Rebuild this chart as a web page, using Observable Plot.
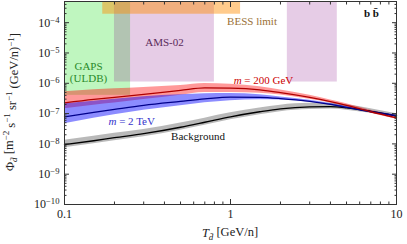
<!DOCTYPE html>
<html><head><meta charset="utf-8">
<script src="https://cdn.jsdelivr.net/npm/d3@7"></script>
<script src="https://cdn.jsdelivr.net/npm/@observablehq/plot@0.6"></script>
<style>body{margin:0;background:#fff} svg{display:block} svg text{font-family:"Liberation Serif",serif}</style>
</head><body><div id="chart"></div>
<script>
// Kinetic energy per nucleon T [GeV/n]
const T = [0.1, 0.15, 0.2, 0.3, 0.5, 0.7, 1, 1.5, 2, 3, 4, 5, 7, 10];
// m = 200 GeV signal
const sig200   = [2.26e-7, 2.95e-7, 3.44e-7, 4.31e-7, 5.84e-7, 7.06e-7, 6.90e-7, 6.07e-7, 4.94e-7, 3.44e-7, 2.50e-7, 1.88e-7, 1.15e-7, 7.28e-8];
const sig200Hi = [5.21e-7, 6.07e-7, 6.55e-7, 7.33e-7, 8.53e-7, 9.93e-7, 9.33e-7, 7.73e-7, 5.97e-7, 4.00e-7, 2.80e-7, 2.10e-7, 1.28e-7, 8.15e-8];
const sig200Lo = [1.44e-7, 1.90e-7, 2.25e-7, 2.89e-7, 4.00e-7, 4.94e-7, 4.94e-7, 4.69e-7, 4.09e-7, 2.95e-7, 2.23e-7, 1.67e-7, 1.02e-7, 6.50e-8];
// m = 2 TeV signal
const sig2T    = [7.85e-8, 1.10e-7, 1.38e-7, 1.88e-7, 2.54e-7, 3.07e-7, 3.52e-7, 3.44e-7, 3.14e-7, 2.54e-7, 2.02e-7, 1.61e-7, 1.15e-7, 8.47e-8];
const sig2THi  = [2.10e-7, 2.54e-7, 2.95e-7, 3.57e-7, 4.15e-7, 4.48e-7, 4.58e-7, 4.15e-7, 3.52e-7, 2.74e-7, 2.15e-7, 1.71e-7, 1.22e-7, 8.99e-8];
const sig2TLo  = [4.62e-8, 7.00e-8, 9.14e-8, 1.28e-7, 1.81e-7, 2.26e-7, 2.64e-7, 2.84e-7, 2.80e-7, 2.35e-7, 1.90e-7, 1.52e-7, 1.08e-7, 7.96e-8];
// Background
const bkg      = [9.42e-9, 1.27e-8, 1.60e-8, 2.17e-8, 3.54e-8, 5.18e-8, 7.85e-8, 1.15e-7, 1.44e-7, 1.67e-7, 1.70e-7, 1.55e-7, 1.19e-7, 8.47e-8];
const bkgHi    = [1.32e-8, 1.79e-8, 2.25e-8, 3.00e-8, 4.87e-8, 7.06e-8, 1.06e-7, 1.53e-7, 1.90e-7, 2.18e-7, 2.18e-7, 1.95e-7, 1.44e-7, 9.84e-8];
const bkgLo    = [7.50e-9, 1.02e-8, 1.27e-8, 1.73e-8, 2.82e-8, 4.15e-8, 6.25e-8, 9.14e-8, 1.16e-7, 1.36e-7, 1.41e-7, 1.30e-7, 1.02e-7, 7.55e-8];

// Experimental regions
const yTop = 5e-4;
const gaps = [{x1: 0.1, x2: 0.25, y1: 4e-7}];
const ams  = [{x1: 0.2, x2: 0.8, y1: 1.1e-6}, {x1: 2.2, x2: 4.4, y1: 1.1e-6}];
const bess = [{x1: 0.17, x2: 1.15, y1: 1.9e-4}];

// Ticks
const xMajor = [0.1, 1, 10];
const xMajorLabels = ["0.1", "1", "10"];
const xMinor = [0.2, 0.3, 0.4, 0.5, 0.6, 0.7, 0.8, 0.9, 2, 3, 4, 5, 6, 7, 8, 9];
const yMajor = [1e-10, 1e-9, 1e-8, 1e-7, 1e-6, 1e-5, 1e-4];
const yExp = ["\u221210", "\u22129", "\u22128", "\u22127", "\u22126", "\u22125", "\u22124"];
const yMinor = yMajor.flatMap(d => [2, 3, 4, 5, 6, 7, 8, 9].map(m => m * d)).filter(v => v < yTop);

// Annotations
const notes = [
  {text: "GAPS", x: 0.1395, y: 3.54e-6, color: "#2a8a2a", weight: "normal"},
  {text: "(ULDB)", x: 0.1395, y: 1.47e-6, color: "#2a8a2a", weight: "normal"},
  {text: "BESS limit", x: 1.348, y: 1.07e-4, color: "#9a7035", weight: "normal"},
  {text: "AMS-02", x: 0.40, y: 2.18e-5, color: "#5a2a5a", weight: "normal"},
  {text: "m = 200 GeV", x: 1.58, y: 1.2e-6, color: "#cc0000", weight: "normal"},
  {text: "m = 2 TeV", x: 0.254, y: 5.37e-8, color: "#3333cc", weight: "normal"},
  {text: "Background", x: 0.637, y: 1.73e-8, color: "#111", weight: "normal"},
  {text: "b b\u0304", x: 7.07, y: 2.02e-4, color: "#111", weight: "bold"}
];

const tbl = (v, lo, hi) => T.map((t, i) => ({T: t, v: v[i], lo: lo[i], hi: hi[i]}));
const red = tbl(sig200, sig200Lo, sig200Hi);
const blue = tbl(sig2T, sig2TLo, sig2THi);
const black = tbl(bkg, bkgLo, bkgHi);

const rectTop = d => yTop;
const frameColor = "#333";
const serif = "'Liberation Serif', serif";

const svg = Plot.plot({
  width: 407, height: 244,
  marginLeft: 64, marginRight: 11, marginTop: 1, marginBottom: 40,
  x: {type: "log", domain: [0.1, 10]},
  y: {type: "log", domain: [1e-10, yTop]},
  style: {fontFamily: serif, fontSize: "12px", background: "white", color: "black"},
  marks: [
    Plot.rect(gaps, {x1: "x1", x2: "x2", y1: "y1", y2: rectTop, fill: "#00dd00", fillOpacity: 0.25}),
    Plot.rect(ams, {x1: "x1", x2: "x2", y1: "y1", y2: rectTop, fill: "purple", fillOpacity: 0.2}),
    Plot.rect(bess, {x1: "x1", x2: "x2", y1: "y1", y2: rectTop, fill: "darkorange", fillOpacity: 0.45}),
    Plot.areaY(black, {x: "T", y1: "lo", y2: "hi", fill: "gray", fillOpacity: 0.55, curve: "monotone-x"}),
    Plot.areaY(red, {x: "T", y1: "lo", y2: "hi", fill: "red", fillOpacity: 0.4, curve: "monotone-x"}),
    Plot.areaY(blue, {x: "T", y1: "lo", y2: "hi", fill: "blue", fillOpacity: 0.45, curve: "monotone-x"}),
    Plot.line(black, {x: "T", y: "v", stroke: "black", strokeWidth: 1.3, curve: "monotone-x"}),
    Plot.line(blue, {x: "T", y: "v", stroke: "#00008b", strokeWidth: 1.3, curve: "monotone-x"}),
    Plot.line(red, {x: "T", y: "v", stroke: "#b00000", strokeWidth: 1.3, curve: "monotone-x"}),
    ...notes.map(a => Plot.text([a], {x: "x", y: "y", text: "text", fill: a.color, fontSize: 11, fontFamily: serif, fontWeight: a.weight})),
    Plot.frame({stroke: frameColor}),
    // ticks (inward, mirrored)
    Plot.axisX(xMajor, {anchor: "bottom", tickSize: -5, fill: "none", stroke: frameColor, label: null}),
    Plot.axisX(xMinor, {anchor: "bottom", tickSize: -2.5, fill: "none", stroke: frameColor, label: null}),
    Plot.axisX(xMajor, {anchor: "top", tickSize: -5, fill: "none", stroke: frameColor, label: null}),
    Plot.axisX(xMinor, {anchor: "top", tickSize: -2.5, fill: "none", stroke: frameColor, label: null}),
    Plot.axisY(yMajor, {anchor: "left", tickSize: -5, fill: "none", stroke: frameColor, label: null}),
    Plot.axisY(yMinor, {anchor: "left", tickSize: -2.5, fill: "none", stroke: frameColor, label: null}),
    Plot.axisY(yMajor, {anchor: "right", tickSize: -5, fill: "none", stroke: frameColor, label: null}),
    Plot.axisY(yMinor, {anchor: "right", tickSize: -2.5, fill: "none", stroke: frameColor, label: null}),
    // labels
    Plot.axisX(xMajor, {anchor: "bottom", tickSize: 0, tickPadding: 5, tickFormat: d => xMajorLabels[xMajor.indexOf(d)], label: null, fontSize: 12, fill: "#222"}),
    Plot.axisY(yMajor, {anchor: "left", tickSize: 0, tickPadding: 5, tickFormat: d => yExp[yMajor.indexOf(d)], label: null, fontSize: 12, fill: "#222"})
  ]
});
document.getElementById("chart").append(svg);

// superscripts for y tick labels
svg.querySelectorAll('[aria-label="y-axis tick label"] text').forEach(t => {
  const e = t.textContent;
  t.textContent = "";
  const a = document.createElementNS("http://www.w3.org/2000/svg", "tspan");
  a.textContent = "10";
  const b = document.createElementNS("http://www.w3.org/2000/svg", "tspan");
  b.setAttribute("dy", "-0.45em");
  b.setAttribute("font-size", "0.72em");
  b.textContent = e;
  t.append(a, b);
});
// italic m in annotations
svg.querySelectorAll('text').forEach(t => {
  if (t.textContent.startsWith("m = ")) {
    const rest = t.textContent.slice(1);
    t.innerHTML = '<tspan font-style="italic">m</tspan>' + rest;
  }
});

const s = d3.select(svg);
// y-axis title
s.append("text")
  .attr("transform", "translate(14,102) rotate(-90)")
  .attr("text-anchor", "middle")
  .attr("font-size", 12.5)
  .attr("fill", "#222")
  .html('\u03A6<tspan dy="0.3em" font-size="0.72em" font-style="italic">d\u0304</tspan><tspan dy="-0.3em"> [m</tspan><tspan dy="-0.45em" font-size="0.72em">\u22122</tspan><tspan dy="0.45em"> s</tspan><tspan dy="-0.45em" font-size="0.72em">\u22121</tspan><tspan dy="0.45em"> sr</tspan><tspan dy="-0.45em" font-size="0.72em">\u22121</tspan><tspan dy="0.45em"> (GeV/n)</tspan><tspan dy="-0.45em" font-size="0.72em">\u22121</tspan><tspan dy="0.45em">]</tspan>');
// x-axis title
s.append("text")
  .attr("x", 230).attr("y", 237)
  .attr("text-anchor", "middle")
  .attr("font-size", 12.5)
  .attr("fill", "#222")
  .html('<tspan font-style="italic">T</tspan><tspan dy="0.3em" font-size="0.72em" font-style="italic">d\u0304</tspan><tspan dy="-0.3em"> [GeV/n]</tspan>');
</script>
</body></html>
